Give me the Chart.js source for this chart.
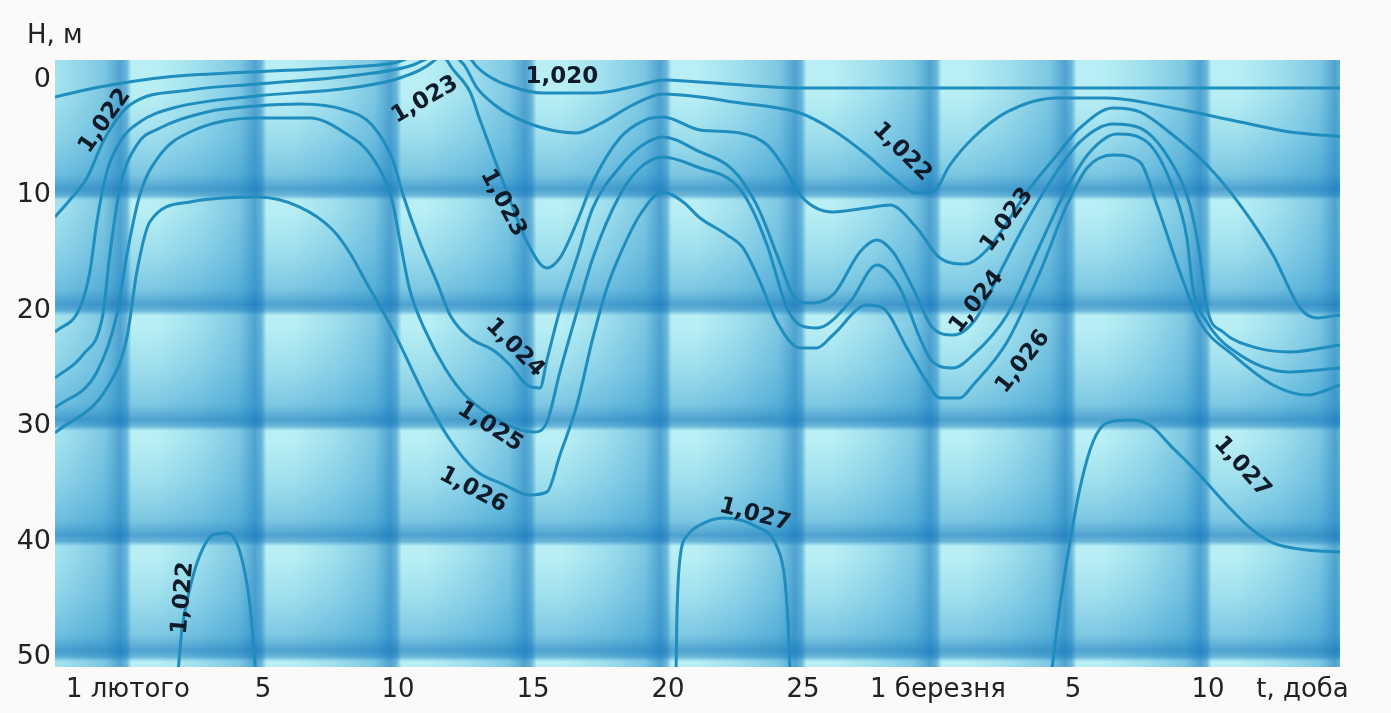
<!DOCTYPE html>
<html lang="uk">
<head>
  <meta charset="UTF-8" />
  <title>Ізопікни</title>
  <script src="https://cdn.jsdelivr.net/npm/chart.js@4"></script>
  <style>
    html, body { margin: 0; background: #fbfaf8; }
    .wrap { width: 1391px; height: 713px; position: relative; }
  </style>
</head>
<body>
<div class="wrap"><canvas id="chart"></canvas></div>
<script>
  // t: days counted from 1 February, H: depth in metres
  const tickDays = [0, 5, 10, 15, 20, 25, 30, 35, 40, 43.5];
  const tickNames = ['1 лютого', '5', '10', '15', '20', '25', '1 березня', '5', '10', 't, доба'];
  const depthTicks = [0, 10, 20, 30, 40, 50];

  // isopycnals, [t, H]
  const iso1020 = [[12.4,-2.6],[12.67,-1.91],[12.93,-1.13],[13.41,-0.26],[14.15,0.52],[15.37,1.13],[17.3,1.13],
    [18.96,0.43],[19.81,0],[21.19,0.17],[24.89,0.69],[30.81,0.69],[36,0.69],[44.9,0.69]];
  const iso1021 = [[-2.7,1.47],[-1.04,0.61],[1.44,-0.26],[4.52,-0.69],[8.22,-1.13],[10,-1.56],[10.63,-2.17],[11,-2.6]];
  const iso1022 = [[-2.7,11.87],[-2.15,10.4],[-1.52,8.49],[-0.85,5.03],[0.07,2.17],[2.3,0.87],[4.78,0.35],[8.22,-0.35],
    [10.44,-1.21],[11.11,-1.91],[11.56,-2.6],[12,-2.6],[12.15,-2.08],[12.48,-1.21],[12.93,0.69],[13.59,2.17],[14.15,3.03],
    [15.37,4.16],[16.63,4.59],[17.48,3.81],[18.7,2.17],[19.81,1.21],[21.19,1.47],[22.41,1.91],[24.89,2.86],[26.11,4.33],
    [27.37,6.5],[28.22,8.23],[29.22,9.79],[29.81,9.71],[30.44,7.37],[31.3,5.03],[32.56,2.77],[34.41,1.56],[36.26,1.56],
    [38.7,2.43],[41.19,3.64],[43.04,4.51],[44.9,4.9]];
  const iso1023 = [[-2.7,21.84],[-1.78,19.76],[-1.41,16.64],[-1.15,12.31],[-0.78,7.97],[-0.3,5.37],[0.44,3.64],[1.67,2.43],
    [4.78,1.39],[8.22,0.69],[10.07,-0.17],[11.37,-1.73],[11.6,-2.4],[11.81,-1.73],[12,-1.04],[12.67,1.04],[13.04,3.47],
    [13.52,6.5],[14.15,10.4],[14.78,14.04],[15.52,16.29],[16,15.42],[16.63,12.31],[17.22,8.84],[18.22,5.03],[19.15,3.47],
    [19.81,3.21],[21.19,4.33],[22.67,4.59],[23.67,5.63],[24.41,7.97],[24.89,9.97],[26.11,11.44],[27.37,11.09],[28.22,10.83],
    [29.22,12.82],[30.07,15.42],[31,15.94],[31.81,14.73],[33.41,9.36],[34.41,6.5],[35.26,4.16],[36.48,2.43],[37.48,2.77],
    [38.7,4.77],[39.96,7.37],[41.19,10.83],[42.41,15.16],[43.41,19.76],[44.04,20.62],[44.9,20.36]];
  const iso1024 = [[-2.7,25.82],[-1.67,23.83],[-0.93,20.36],[-0.67,15.16],[-0.3,9.36],[0.33,5.63],[1.19,4.16],[2.93,2.77],
    [4.78,2.25],[6.37,2.08],[8.04,2.6],[9.04,3.9],[9.81,6.93],[10.19,9.97],[10.81,14.04],[11.44,17.5],[11.93,20.36],
    [12.67,22.36],[13.52,23.4],[14.15,24.7],[14.78,26.43],[15.26,26.69],[15.52,24.26],[16,19.93],[16.63,15.42],[17.22,11.09],
    [18.22,7.54],[18.96,5.81],[19.81,4.94],[21.19,6.24],[22.19,7.37],[22.78,8.84],[23.41,11.44],[24.04,15.16],[24.63,18.63],
    [25.15,19.32],[26.11,18.63],[27.11,14.9],[27.74,13.86],[28.33,14.9],[29.07,18.02],[29.81,21.49],[30.56,22.1],[31.37,20.8],
    [32.3,16.64],[33.15,12.82],[34.15,8.84],[35.26,5.37],[36.48,3.81],[37.48,4.16],[38.7,7.37],[39.33,10.83],[39.7,15.16],
    [39.96,19.76],[40.56,21.84],[41.81,23.22],[43.04,23.57],[44.9,22.96]];
  const iso1025 = [[-2.7,28.42],[-1.15,25.3],[-0.41,20.36],[-0.04,15.16],[0.44,9.97],[1.19,6.5],[2.3,4.51],[4.78,3.29],
    [6.74,3.29],[8.04,4.59],[9.04,6.67],[9.78,10.4],[10.07,13.86],[10.44,18.2],[11,21.66],[11.74,24.96],[12.48,27.3],
    [13.41,29.03],[14.33,30.16],[15.07,30.5],[15.52,29.64],[16,25.3],[16.63,20.1],[17.22,15.42],[18.22,9.97],[18.96,7.63],
    [19.81,6.67],[21.19,7.63],[22.41,8.84],[23.04,10.83],[23.67,14.3],[24.41,19.76],[24.89,21.23],[25.52,21.49],[26.74,19.24],
    [27.74,16.03],[28.59,18.02],[29.33,22.36],[29.81,24.44],[30.56,24.96],[31.3,23.83],[32.56,20.36],[33.78,14.3],[34.78,9.36],
    [35.63,6.24],[36.63,4.68],[37.74,5.37],[38.7,9.36],[39.22,13.69],[39.44,18.02],[39.96,20.97],[41.19,23.83],[43.04,25.3],
    [44.9,24.96]];
  const iso1026 = [[-2.7,30.59],[-0.78,26.69],[-0.04,22.36],[0.33,16.64],[0.81,12.31],[2.3,10.57],[4.78,10.14],[6.37,11.01],
    [7.59,13],[8.22,14.99],[8.78,17.33],[9.81,21.66],[11.07,27.73],[11.93,31.2],[12.85,33.8],[13.96,35.1],[14.89,35.96],
    [15.52,35.7],[16,32.5],[16.63,28.16],[17.22,22.36],[17.74,18.02],[18.22,15.16],[18.96,11.7],[19.81,9.71],[20.56,10.57],
    [21.19,11.96],[22.19,13.43],[22.78,14.56],[23.41,17.5],[24.04,20.97],[24.89,23.22],[25.52,23.22],[26.11,22.1],[27.37,19.5],
    [27.96,19.76],[28.85,23.22],[29.59,26.17],[30.07,27.56],[30.81,27.56],[31.3,26.43],[32.56,22.7],[33.78,16.64],[34.78,10.83],
    [35.52,7.63],[36.48,6.5],[37.48,7.11],[38.11,10.83],[38.96,16.64],[39.7,20.97],[40.93,23.83],[42.41,26.43],[43.67,27.3],
    [44.9,26.43]];
  const isoBottomLeft = [[1.85,51.5],[2,47.66],[2.3,44.02],[2.67,41.16],[3.15,39.43],[3.67,39.25],[4.15,40.9],[4.52,45.49],[4.74,51.5]];
  const isoBottomMid = [[20.3,51.5],[20.33,46.79],[20.44,41.59],[20.74,39.43],[21.19,38.56],[22.04,37.95],[23.3,38.73],
    [24.04,40.47],[24.33,43.33],[24.48,48.53],[24.52,51.5]];
  const isoBottomRight = [[34.2,51.5],[34.52,45.49],[34.89,40.03],[35.26,35.36],[35.74,31.37],[36.26,29.72],[37.11,29.46],
    [37.85,29.9],[38.7,31.89],[39.59,33.97],[40.7,36.83],[41.56,38.82],[42.41,40.12],[43.67,40.73],[44.9,40.9]];

  // contour labels: text, t, H, angle in degrees
  const contourLabels = [
    ['1,022', -0.85, 3.55, -55], ['1,023', 11.0, 1.73, -30], ['1,020', 16.07, -0.26, 0],
    ['1,023', 13.89, 10.66, 62], ['1,024', 14.33, 23.22, 45], ['1,025', 13.41, 30.07, 33],
    ['1,026', 12.78, 35.53, 28], ['1,022', 28.67, 6.24, 45], ['1,023', 32.56, 12.13, -54],
    ['1,024', 31.44, 19.24, -52], ['1,026', 33.15, 24.44, -52], ['1,027', 23.22, 37.69, 15],
    ['1,027', 41.26, 33.54, 48], ['1,022', 2.04, 44.89, -85]
  ];

  const lineColor = '#1f8dbd';
  const series = [
    ['1,020', iso1020], ['1,021', iso1021], ['1,022', iso1022], ['1,023', iso1023], ['1,024', iso1024],
    ['1,025', iso1025], ['1,026', iso1026], ['1,022 дно', isoBottomLeft], ['1,027', isoBottomMid], ['1,027 праве', isoBottomRight]
  ];

  function bandGradient(ctx, a0, a1, horizontal) {
    const g = horizontal ? ctx.createLinearGradient(a0, 0, a1, 0) : ctx.createLinearGradient(0, a0, 0, a1);
    g.addColorStop(0, 'rgba(20,135,200,0)');
    g.addColorStop(0.4, 'rgba(20,135,200,0.16)');
    g.addColorStop(0.75, 'rgba(20,130,195,0.36)');
    g.addColorStop(0.9, 'rgba(15,115,185,0.62)');
    g.addColorStop(0.96, 'rgba(15,115,185,0.45)');
    g.addColorStop(1, 'rgba(20,135,200,0.05)');
    return g;
  }

  const checkerBg = {
    id: 'checkerBg',
    beforeDatasetsDraw(chart) {
      const { ctx, chartArea: a, scales: { x, y } } = chart;
      ctx.save();
      ctx.beginPath();
      ctx.rect(a.left, a.top, a.right - a.left, a.bottom - a.top);
      ctx.clip();
      ctx.fillStyle = '#b9eff4';
      ctx.fillRect(a.left, a.top, a.right - a.left, a.bottom - a.top);
      // vertical bands, darkening towards each band from the left
      for (let k = 0; k < 10; k++) {
        const px = x.getPixelForValue(5 * k - 0.25);
        ctx.fillStyle = bandGradient(ctx, px - 100, px + 10, true);
        ctx.fillRect(px - 100, a.top, 110, a.bottom - a.top);
      }
      // horizontal bands, darkening towards each band from above
      depthTicks.slice(1).forEach(t => {
        const py = y.getPixelForValue(t - 0.5);
        ctx.fillStyle = bandGradient(ctx, py - 95, py + 10, false);
        ctx.fillRect(a.left, py - 95, a.right - a.left, 105);
      });
      ctx.restore();
    }
  };

  const contourText = {
    id: 'contourText',
    afterDatasetsDraw(chart) {
      const { ctx, chartArea: a, scales: { x, y } } = chart;
      ctx.save();
      ctx.font = 'bold 23px "DejaVu Sans"';
      ctx.fillStyle = '#0f1b28';
      ctx.textAlign = 'center';
      ctx.textBaseline = 'middle';
      contourLabels.forEach(([txt, t, h, ang]) => {
        ctx.save();
        ctx.translate(x.getPixelForValue(t), y.getPixelForValue(h));
        ctx.rotate(ang * Math.PI / 180);
        ctx.fillText(txt, 0, 0);
        ctx.restore();
      });
      // axis name
      ctx.font = '26px "DejaVu Sans"';
      ctx.fillStyle = '#222';
      ctx.textAlign = 'left';
      ctx.textBaseline = 'alphabetic';
      ctx.fillText('H, м', a.left - 28, a.top - 17);
      ctx.restore();
    }
  };

  new Chart(document.getElementById('chart'), {
    type: 'line',
    data: {
      datasets: series.map(([name, pts]) => ({
        label: name,
        data: pts.map(([t, h]) => ({ x: t, y: h })),
        borderColor: lineColor,
        borderWidth: 3,
        pointRadius: 0,
        cubicInterpolationMode: 'monotone',
        clip: 0
      }))
    },
    options: {
      responsive: true,
      maintainAspectRatio: false,
      animation: false,
      layout: { padding: { top: 60, right: 51, left: 0, bottom: 0 } },
      plugins: { legend: { display: false }, tooltip: { enabled: false } },
      scales: {
        x: {
          type: 'linear',
          min: -2.7,
          max: 44.89,
          border: { display: false },
          grid: { display: false, drawTicks: false },
          afterBuildTicks: s => { s.ticks = tickDays.map(v => ({ value: v })); },
          afterFit: s => { s.height = 46; },
          ticks: {
            autoSkip: false, maxRotation: 0, minRotation: 0, padding: 8,
            color: '#222', font: { family: 'DejaVu Sans', size: 26 },
            callback: (v, i) => tickNames[i]
          }
        },
        y: {
          type: 'linear',
          reverse: true,
          min: -1.73,
          max: 50.87,
          border: { display: false },
          grid: { display: false, drawTicks: false },
          afterBuildTicks: s => { s.ticks = depthTicks.map(v => ({ value: v })); },
          afterFit: s => { s.width = 55; },
          ticks: {
            padding: 4,
            color: '#222', font: { family: 'DejaVu Sans', size: 27 },
            callback: v => String(v)
          }
        }
      }
    },
    plugins: [checkerBg, contourText]
  });
</script>
</body>
</html>
